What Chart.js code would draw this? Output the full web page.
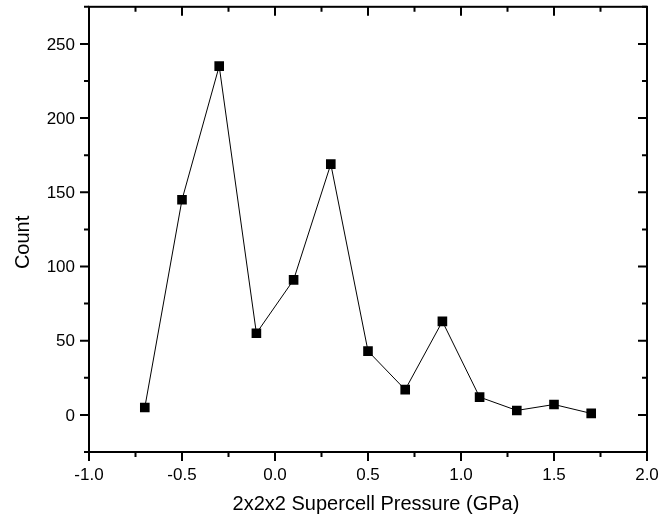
<!DOCTYPE html>
<html>
<head>
<meta charset="utf-8">
<script src="https://cdn.jsdelivr.net/npm/chart.js@4/dist/chart.umd.min.js"></script>
<style>
  html, body { margin: 0; padding: 0; background: #fff; }
  #wrap { width: 661px; height: 527px; }
</style>
</head>
<body>
<div id="wrap"><canvas id="myChart" width="661" height="527"></canvas></div>
<script>
// pressure bins (GPa) and counts
const pressures = [-0.7, -0.5, -0.3, -0.1, 0.1, 0.3, 0.5, 0.7, 0.9, 1.1, 1.3, 1.5, 1.7];
const counts = [5, 145, 235, 55, 91, 169, 43, 17, 63, 12, 3, 7, 1];

const xRange = [-1.0, 2.0];
const yRange = [-25, 275];
const xMajor = [-1.0, -0.5, 0.0, 0.5, 1.0, 1.5, 2.0];
const yMajor = [0, 50, 100, 150, 200, 250];
const xTitle = '2x2x2 Supercell Pressure (GPa)';
const yTitle = 'Count';

const points = pressures.map((p, i) => ({ x: p, y: counts[i] }));

const FONT = '"Liberation Sans", Arial, sans-serif';

// frame, origin-style tick marks and all axis text
const framePlugin = {
    id: 'frame',
    afterDraw(chart) {
        const ctx = chart.ctx;
        const a = chart.chartArea;
        const xs = chart.scales.x, ys = chart.scales.y;
        ctx.save();
        ctx.strokeStyle = '#000';
        ctx.fillStyle = '#000';
        ctx.lineWidth = 2;
        ctx.strokeRect(a.left, a.top, a.right - a.left, a.bottom - a.top);
        ctx.beginPath();
        xs.ticks.forEach(t => {
            const px = xs.getPixelForValue(t.value);
            const major = xMajor.some(v => Math.abs(v - t.value) < 1e-6);
            const len = major ? 9 : 5;
            ctx.moveTo(px, a.bottom); ctx.lineTo(px, a.bottom + len);
            ctx.moveTo(px, a.top); ctx.lineTo(px, a.top + len);
        });
        ys.ticks.forEach(t => {
            const py = ys.getPixelForValue(t.value);
            const major = yMajor.includes(t.value);
            const len = major ? 9 : 5;
            ctx.moveTo(a.left, py); ctx.lineTo(a.left - len, py);
            ctx.moveTo(a.right, py); ctx.lineTo(a.right - len, py);
        });
        ctx.stroke();

        // tick labels
        ctx.font = '17px ' + FONT;
        ctx.textAlign = 'center';
        ctx.textBaseline = 'alphabetic';
        xMajor.forEach(v => {
            ctx.fillText(v.toFixed(1), xs.getPixelForValue(v), a.bottom + 28);
        });
        ctx.textAlign = 'right';
        ctx.textBaseline = 'middle';
        yMajor.forEach(v => {
            ctx.fillText(String(v), a.left - 14, ys.getPixelForValue(v) + 1);
        });

        // axis titles
        ctx.font = '20px ' + FONT;
        ctx.textAlign = 'center';
        ctx.textBaseline = 'alphabetic';
        ctx.fillText(xTitle, (a.left + a.right) / 2 + 8, a.bottom + 58);
        ctx.translate(29, (a.top + a.bottom) / 2 + 13);
        ctx.rotate(-Math.PI / 2);
        ctx.fillText(yTitle, 0, 0);
        ctx.restore();
    }
};

const ctx = document.getElementById('myChart').getContext('2d');
const myChart = new Chart(ctx, {
    type: 'scatter',
    data: {
        datasets: [{
            data: points,
            showLine: true,
            borderColor: '#000',
            borderWidth: 1,
            backgroundColor: '#000',
            pointStyle: 'rect',
            pointRadius: 6.8,
            pointBorderWidth: 0
        }]
    },
    options: {
        responsive: false,
        animation: false,
        layout: { padding: { top: 2, right: 14, left: 89, bottom: 75 } },
        plugins: { legend: { display: false }, tooltip: { enabled: false } },
        scales: {
            x: {
                type: 'linear',
                display: false,
                min: xRange[0],
                max: xRange[1],
                ticks: { stepSize: 0.25 }
            },
            y: {
                type: 'linear',
                display: false,
                min: yRange[0],
                max: yRange[1],
                ticks: { stepSize: 25 }
            }
        }
    },
    plugins: [framePlugin]
});
</script>
</body>
</html>
